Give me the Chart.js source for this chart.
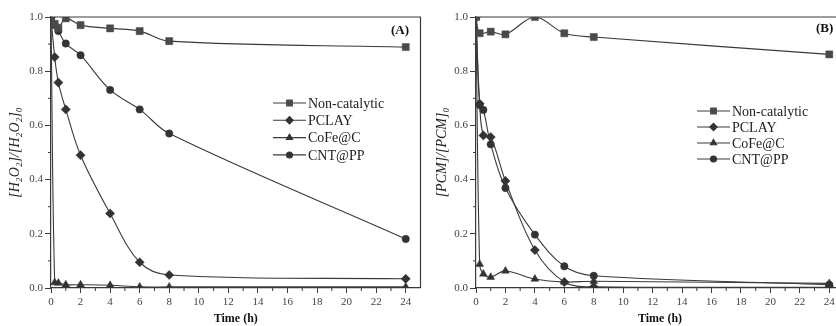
<!DOCTYPE html>
<html>
<head>
<meta charset="utf-8">
<script src="https://cdn.jsdelivr.net/npm/chart.js@4.4.1/dist/chart.umd.min.js"></script>
<style>
  html, body { margin: 0; padding: 0; background: #fff; overflow: hidden; }
  body { width: 836px; height: 326px; position: relative; }
  canvas { position: absolute; top: 0; }
  #chartA { left: 0; }
  #chartB { left: 416px; }
</style>
</head>
<body>
<canvas id="chartA" width="426" height="326"></canvas>
<canvas id="chartB" width="440" height="326"></canvas>
<script>
// sampling times (h)
const timesA = [0, 0.25, 0.5, 1, 2, 4, 6, 8, 24];
const timesB = [0, 0.25, 0.5, 1, 2, 4, 6, 8, 24];

// panel A: [H2O2]/[H2O2]0
const nonCatA = [1.0, 0.975, 0.96, 0.995, 0.97, 0.958, 0.948, 0.911, 0.889];
const pclayA  = [1.0, 0.852, 0.758, 0.659, 0.49, 0.275, 0.095, 0.048, 0.034];
const cofeA   = [1.0, 0.02, 0.018, 0.012, 0.012, 0.01, 0.004, 0.004, 0.004];
const cntA    = [1.0, 0.97, 0.948, 0.902, 0.859, 0.731, 0.659, 0.570, 0.181];

// panel B: [PCM]/[PCM]0
const nonCatB = [1.0, 0.94, null, 0.946, 0.936, 1.0, 0.94, 0.926, 0.862];
const pclayB  = [1.0, 0.68, 0.563, 0.557, 0.395, 0.14, 0.022, 0.004, 0.003];
const cofeB   = [1.0, 0.088, 0.052, 0.04, 0.063, 0.033, 0.022, 0.025, 0.017];
const cntB    = [1.0, 0.675, 0.657, 0.53, 0.369, 0.197, 0.08, 0.045, 0.012];

const seriesNames = ['Non-catalytic', 'PCLAY', 'CoFe@C', 'CNT@PP'];
const xTickLabels = [0, 2, 4, 6, 8, 10, 12, 14, 16, 18, 20, 22, 24];
const yTickLabels = [0, 0.2, 0.4, 0.6, 0.8, 1.0];

const serif = '"Liberation Serif", "DejaVu Serif", serif';
const ink = '#3a3a3a';

function pts(times, vals) {
  return times.map((t, i) => ({ x: t, y: vals[i] }));
}

function makeSets(times, lists) {
  const styles = [
    { pointStyle: 'rect', pointRadius: 5, color: '#4a4a4a' },
    { pointStyle: 'rectRot', pointRadius: 4.6, color: '#333' },
    { pointStyle: 'triangle', pointRadius: 4.5, color: '#333' },
    { pointStyle: 'circle', pointRadius: 3.7, color: '#333' },
  ];
  return lists.map((vals, i) => ({
    label: seriesNames[i],
    data: pts(times, vals),
    borderColor: ink,
    borderWidth: 1.1,
    backgroundColor: styles[i].color,
    pointBackgroundColor: styles[i].color,
    pointBorderColor: styles[i].color,
    pointBorderWidth: 0.5,
    pointStyle: styles[i].pointStyle,
    pointRadius: styles[i].pointRadius,
    tension: 0.35,
    spanGaps: true,
  }));
}

// legend drawn inside the plot, line + marker + name
const insideLegend = {
  id: 'insideLegend',
  afterDraw(chart, args, opts) {
    const ctx = chart.ctx;
    ctx.save();
    chart.data.datasets.forEach((ds, i) => {
      const y = opts.y + i * opts.dy;
      ctx.strokeStyle = ink;
      ctx.lineWidth = 1.1;
      ctx.beginPath();
      ctx.moveTo(opts.x, y);
      ctx.lineTo(opts.x + opts.len, y);
      ctx.stroke();
      ctx.fillStyle = ds.pointBackgroundColor;
      ctx.strokeStyle = ds.pointBorderColor;
      Chart.helpers.drawPoint(ctx, { pointStyle: ds.pointStyle, radius: ds.pointRadius * 0.8, borderWidth: 0.5, rotation: 0 }, opts.x + opts.len / 2, y);
      ctx.fillStyle = '#222';
      ctx.font = '14px ' + serif;
      ctx.textBaseline = 'middle';
      ctx.textAlign = 'left';
      ctx.fillText(ds.label, opts.x + opts.len + 2, y + 1);
    });
    ctx.restore();
  }
};

// top/right frame, minor ticks and panel tag
const frame = {
  id: 'frame',
  afterDraw(chart, args, opts) {
    const ctx = chart.ctx;
    const a = chart.chartArea;
    const xs = chart.scales.x, ys = chart.scales.y;
    ctx.save();
    ctx.strokeStyle = ink;
    ctx.lineWidth = 1.2;
    ctx.beginPath();
    ctx.moveTo(a.left, a.top);
    ctx.lineTo(a.right, a.top);
    ctx.lineTo(a.right, a.bottom);
    ctx.stroke();
    ctx.lineWidth = 1;
    ctx.beginPath();
    for (let v = 1; v < 25; v += 2) {
      const px = xs.getPixelForValue(v);
      ctx.moveTo(px, a.bottom);
      ctx.lineTo(px, a.bottom + 3);
    }
    for (let v = 0.1; v < 1; v += 0.2) {
      const py = ys.getPixelForValue(v);
      ctx.moveTo(a.left, py);
      ctx.lineTo(a.left - 3, py);
    }
    ctx.stroke();
    ctx.fillStyle = '#111';
    ctx.font = 'bold 13px ' + serif;
    ctx.textBaseline = 'middle';
    ctx.textAlign = 'left';
    ctx.fillText(opts.tag, opts.tagX, opts.tagY);
    ctx.restore();
  }
};

function makeChart(id, times, lists, cfg) {
  return new Chart(document.getElementById(id), {
    type: 'line',
    data: { datasets: makeSets(times, lists) },
    plugins: [insideLegend, frame],
    options: {
      responsive: false,
      animation: false,
      devicePixelRatio: 1,
      layout: { padding: { left: 0, top: 17, right: cfg.padRight, bottom: 0 } },
      plugins: {
        legend: { display: false },
        tooltip: { enabled: false },
        insideLegend: cfg.legend,
        frame: { tag: cfg.tag, tagX: cfg.tagX, tagY: cfg.tagY },
      },
      scales: {
        x: {
          type: 'linear',
          min: 0,
          max: 25,
          afterBuildTicks: s => { s.ticks = xTickLabels.map(v => ({ value: v })); },
          afterFit: s => { s.height = 38; },
          ticks: { font: { family: serif, size: 11 }, color: '#444', padding: 3, maxRotation: 0, autoSkip: false },
          grid: { drawOnChartArea: false, tickLength: 5, color: ink },
          border: { color: ink, width: 1.2 },
          title: {
            display: true,
            text: 'Time (h)',
            color: '#111',
            font: { family: serif, size: 12, weight: 'bold' },
            padding: { top: 0, bottom: 0 },
          },
        },
        y: {
          min: 0,
          max: 1,
          afterBuildTicks: s => { s.ticks = yTickLabels.map(v => ({ value: v })); },
          afterFit: s => { s.width = cfg.yWidth; },
          ticks: { font: { family: serif, size: 11 }, color: '#444', padding: 2, callback: v => v.toFixed(1) },
          grid: { drawOnChartArea: false, tickLength: 6, color: ink },
          border: { color: ink, width: 1.2 },
          title: {
            display: true,
            text: cfg.yTitle,
            color: '#222',
            font: { family: serif, size: 14, style: 'italic' },
            padding: { top: cfg.yTitlePad, bottom: 0 },
          },
        },
      },
    },
  });
}

makeChart('chartA', timesA, [nonCatA, pclayA, cofeA, cntA], {
  padRight: 4,
  yWidth: 51,
  yTitle: '[H₂O₂]/[H₂O₂]₀',
  yTitlePad: 7,
  tag: '(A)',
  tagX: 391,
  tagY: 31,
  legend: { x: 273, y: 103, dy: 17.3, len: 33 },
});

makeChart('chartB', timesB, [nonCatB, pclayB, cofeB, cntB], {
  padRight: 12,
  yWidth: 60,
  yTitle: '[PCM]/[PCM]₀',
  yTitlePad: 18,
  tag: '(B)',
  tagX: 400,
  tagY: 29,
  legend: { x: 281, y: 111, dy: 16, len: 33 },
});
</script>
</body>
</html>
